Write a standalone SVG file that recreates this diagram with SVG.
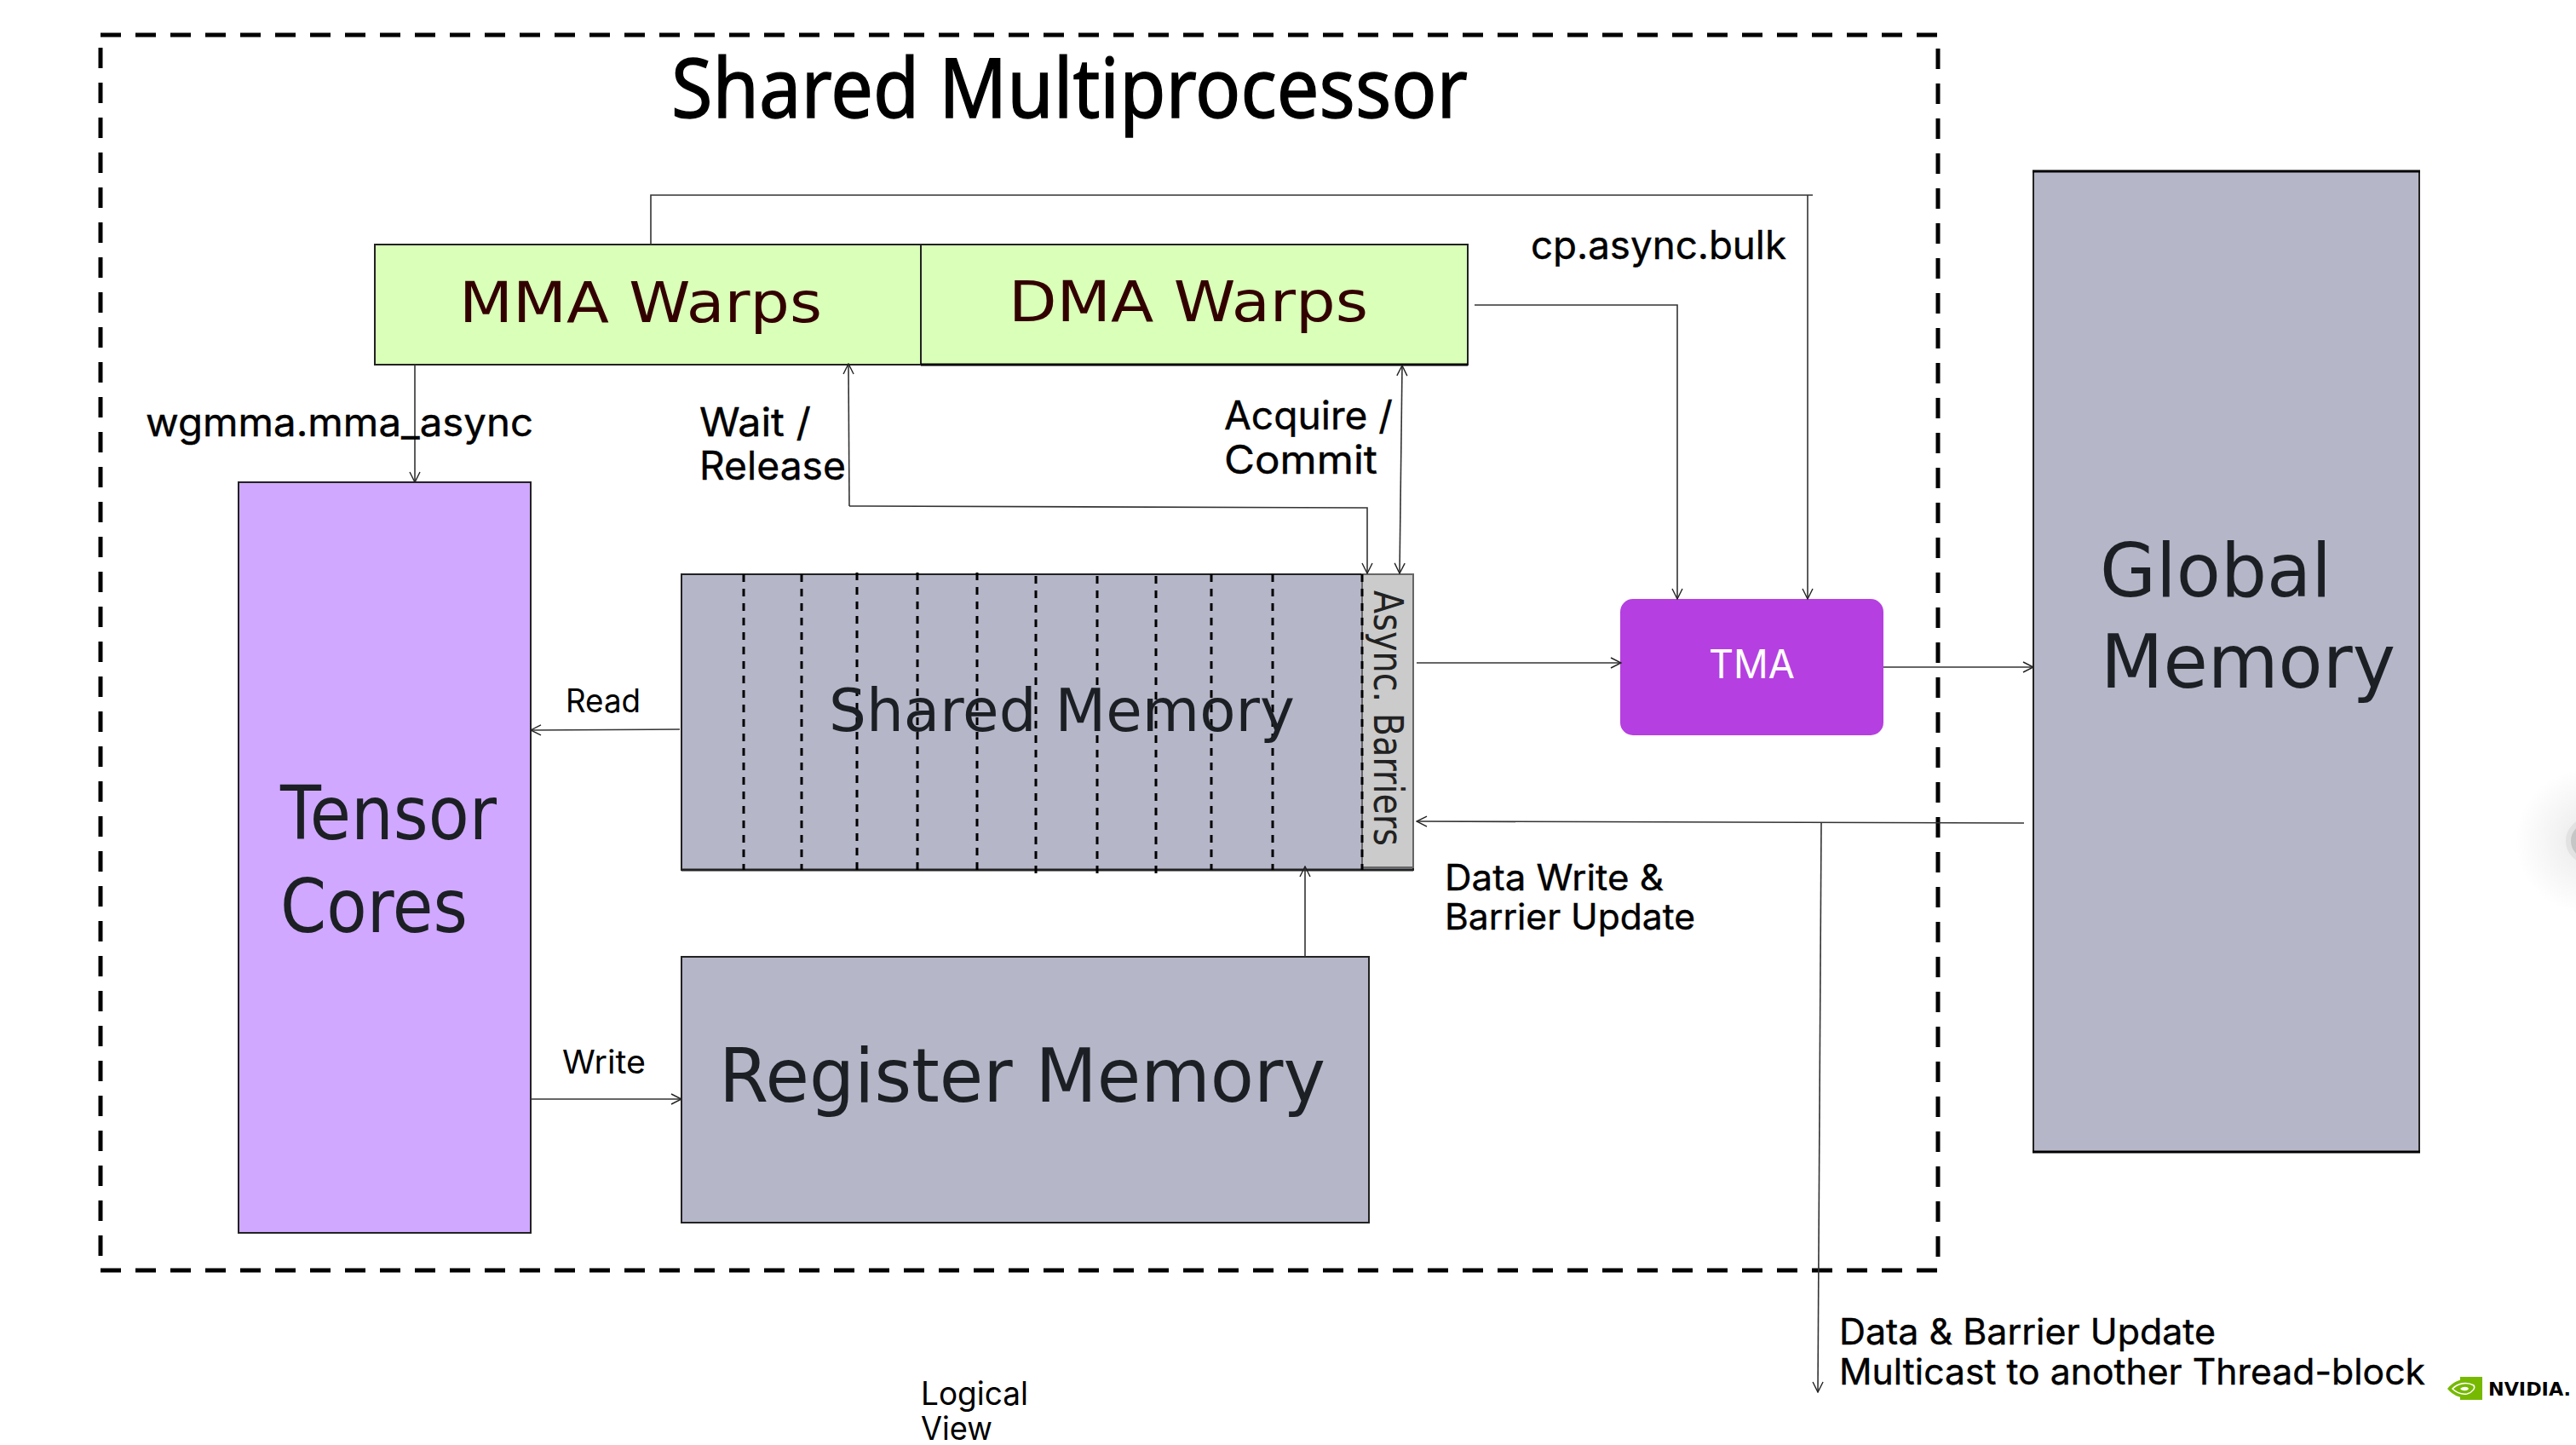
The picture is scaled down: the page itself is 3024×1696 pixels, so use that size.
<svg xmlns="http://www.w3.org/2000/svg" width="3024" height="1696" viewBox="0 0 3024 1696">
<style>
.dv{font-family:"DejaVu Sans",sans-serif}
.in{font-family:"Inter",sans-serif}
.ns{font-family:"Noto Sans",sans-serif}
.node{stroke:#222;stroke-width:2}
.gray{fill:#b5b6c8}
.green{fill:#d9ffb8}
.big{fill:#1c2024}
.warp{fill:#330000;font-size:66px}
.lab{fill:#000;font-size:46px;stroke:#000;stroke-width:.4}
.sm{fill:#000;font-size:38px}
.conn{fill:none;stroke:#333;stroke-width:1.6;marker-end:url(#arr)}
.plain{fill:none;stroke:#333;stroke-width:1.6}
.div{stroke:#000;stroke-width:3;stroke-dasharray:9 8}
</style>
<defs>
<marker id="arr" viewBox="0 0 14 14" refX="13" refY="7" markerWidth="14" markerHeight="14" markerUnits="userSpaceOnUse" orient="auto-start-reverse"><path d="M1 1L13 7L1 13" fill="none" stroke="#222" stroke-width="1.4"/></marker>
<radialGradient id="sh"><stop offset="0.3" stop-color="#aaa" stop-opacity=".18"/><stop offset="1" stop-color="#aaa" stop-opacity="0"/></radialGradient>
</defs>
<rect width="3024" height="1696" fill="#fff"/>
<g id="boundary">
<rect x="118" y="41" width="2157" height="1450" fill="none" stroke="#000" stroke-width="5" stroke-dasharray="24 17"/>
<text x="788" y="138" class="ns" font-size="96" fill="#000" stroke="#000" stroke-width="1.4" textLength="935" lengthAdjust="spacingAndGlyphs">Shared Multiprocessor</text>
</g>
<g id="mma-warps"><rect x="440" y="287" width="641" height="141" class="node green"/><text x="539" y="378" class="dv warp" textLength="426" lengthAdjust="spacingAndGlyphs">MMA Warps</text></g>
<g id="dma-warps"><rect x="1081" y="287" width="642" height="141" class="node green"/><path d="M1081 428H1723" stroke="#000" stroke-width="3"/><text x="1184" y="377" class="dv warp" textLength="422" lengthAdjust="spacingAndGlyphs">DMA Warps</text></g>
<g id="tensor-cores"><rect x="280" y="566" width="343" height="881" class="node" fill="#d0a8ff"/><text class="dv big" font-size="87"><tspan x="329" y="985" textLength="254" lengthAdjust="spacingAndGlyphs">Tensor</tspan></text><text class="dv big" font-size="87"><tspan x="329" y="1094" textLength="220" lengthAdjust="spacingAndGlyphs">Cores</tspan></text></g>
<g id="shared-memory"><rect x="800" y="674" width="859" height="347" class="node gray"/>
<rect x="1599" y="674" width="60" height="344" fill="#cbcbcb" stroke="#666" stroke-width="2"/>
<path d="M800 1021H1659" stroke="#222" stroke-width="3"/>
<g class="div"><path d="M873 674V1021M941 674V1021M1006 672V1021M1077 672V1021M1147 672V1021M1216 676V1025M1288 676V1025M1357 676V1025M1422 674V1021M1494 674V1021M1599 674V1021"/></g>
<text x="973" y="858" class="dv big" font-size="70" textLength="547" lengthAdjust="spacingAndGlyphs">Shared Memory</text>
<text transform="translate(1613 693) rotate(90)" class="dv" fill="#222" font-size="48" textLength="300" lengthAdjust="spacingAndGlyphs">Async. Barriers</text></g>
<g id="register-memory"><rect x="800" y="1123" width="807" height="312" class="node gray"/><text x="844" y="1293" class="dv big" font-size="88" textLength="712" lengthAdjust="spacingAndGlyphs">Register Memory</text></g>
<g id="tma"><rect x="1902" y="703" width="309" height="160" rx="15" fill="#b53fe0"/><text x="2006" y="796" class="in" font-size="46" fill="#fff" textLength="101" lengthAdjust="spacingAndGlyphs">TMA</text></g>
<g id="global-memory"><rect x="2387" y="201" width="453" height="1151" class="node gray"/><path d="M2386 201H2841M2386 1352H2841" stroke="#000" stroke-width="3"/><text class="dv big" font-size="88"><tspan x="2465" y="700" textLength="272" lengthAdjust="spacingAndGlyphs">Global</tspan></text><text class="dv big" font-size="88"><tspan x="2466" y="807" textLength="346" lengthAdjust="spacingAndGlyphs">Memory</tspan></text></g>
<g id="connectors">
<path class="plain" d="M764 287V229H2128"/>
<path class="conn" d="M2122 229V703"/>
<path class="conn" d="M1731 358H1969V703"/>
<path class="conn" d="M487 428V566"/>
<path class="conn" d="M997 594L996 427"/>
<path class="conn" d="M997 594L1605 596V673"/>
<path class="conn" style="marker-start:url(#arr)" d="M1646 429L1643 673"/>
<path class="conn" d="M1663 778H1903"/>
<path class="conn" d="M2211 783H2387"/>
<path class="conn" d="M2376 966L1663 964"/>
<path class="conn" d="M2138 966L2134 1634"/>
<path class="conn" d="M798 856L623 857"/>
<path class="conn" d="M623 1290H800"/>
<path class="conn" d="M1532 1123V1017"/>
</g>
<g id="labels" class="in">
<text x="1797" y="304" class="lab" textLength="300" lengthAdjust="spacingAndGlyphs">cp.async.bulk</text>
<text x="171" y="512" class="lab" textLength="455" lengthAdjust="spacingAndGlyphs">wgmma.mma_async</text>
<text x="821" y="512" class="lab" textLength="131" lengthAdjust="spacingAndGlyphs">Wait /</text>
<text x="821" y="563" class="lab" textLength="172" lengthAdjust="spacingAndGlyphs">Release</text>
<text x="1437" y="504" class="lab" textLength="198" lengthAdjust="spacingAndGlyphs">Acquire /</text>
<text x="1437" y="556" class="lab" textLength="180" lengthAdjust="spacingAndGlyphs">Commit</text>
<text x="664" y="836" class="sm" textLength="88" lengthAdjust="spacingAndGlyphs">Read</text>
<text x="660" y="1260" class="sm" textLength="98" lengthAdjust="spacingAndGlyphs">Write</text>
<text x="1696" y="1045" class="lab" style="font-size:42px" textLength="257" lengthAdjust="spacingAndGlyphs">Data Write &amp;</text>
<text x="1696" y="1091" class="lab" style="font-size:42px" textLength="294" lengthAdjust="spacingAndGlyphs">Barrier Update</text>
<text x="2159" y="1578" class="lab" style="font-size:42px" textLength="442" lengthAdjust="spacingAndGlyphs">Data &amp; Barrier Update</text>
<text x="2159" y="1625" class="lab" style="font-size:42px" textLength="688" lengthAdjust="spacingAndGlyphs">Multicast to another Thread-block</text>
<text x="1081" y="1649" class="sm" textLength="126" lengthAdjust="spacingAndGlyphs">Logical</text>
<text x="1081" y="1690" class="sm" textLength="84" lengthAdjust="spacingAndGlyphs">View</text>
</g>
<g id="nvidia-logo">
<rect x="2888" y="1616" width="26" height="27" fill="#76b900"/>
<path d="M2873 1630C2879 1622 2887 1619 2896 1619L2896 1641C2887 1641 2879 1637 2873 1630Z" fill="#76b900"/>
<path d="M2879 1630C2885 1624 2895 1621 2904 1626C2906 1629 2903 1634 2896 1636C2888 1637 2883 1634 2879 1630Z" fill="none" stroke="#fff" stroke-width="1.6"/>
<path d="M2888 1630C2891 1627 2897 1627 2898 1630C2896 1633 2891 1633 2888 1630Z" fill="#fff"/>
<text x="2921" y="1638" class="dv" font-weight="700" font-size="21" fill="#000" textLength="97" lengthAdjust="spacingAndGlyphs">NVIDIA.</text>
</g>
<g id="scroll-handle"><circle cx="3038" cy="987" r="85" fill="url(#sh)"/><circle cx="3039" cy="987" r="24" fill="#c6c6c6" stroke="#e2e2e2" stroke-width="6"/></g>
</svg>
